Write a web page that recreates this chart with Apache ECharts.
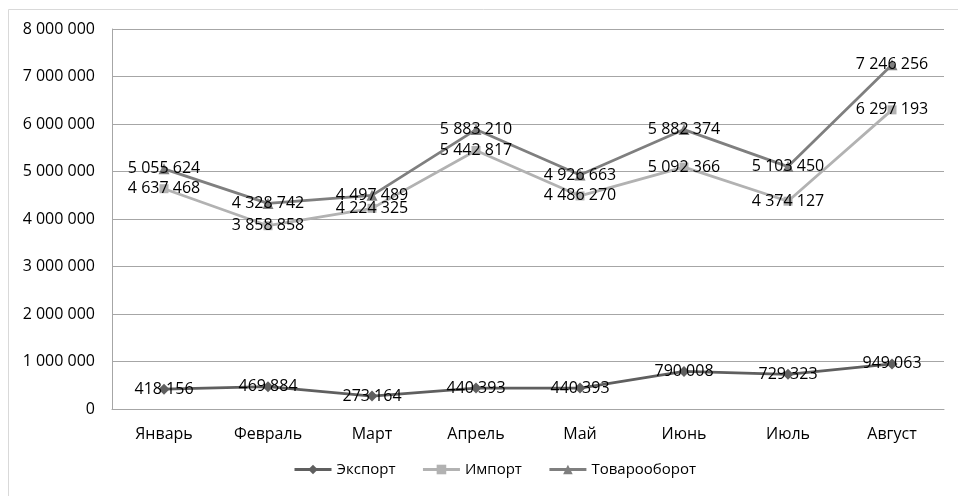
<!DOCTYPE html>
<html>
<head>
<meta charset="utf-8">
<script src="https://cdn.jsdelivr.net/npm/echarts@6/dist/echarts.min.js"></script>
<style>
  html, body { margin: 0; padding: 0; background: #fff; }
  #chart { width: 958px; height: 496px; }
</style>
</head>
<body>
<div id="chart"></div>
<script>
// Months (January–August)
const months = ['Январь', 'Февраль', 'Март', 'Апрель', 'Май', 'Июнь', 'Июль', 'Август'];

// Monthly trade figures
const exportValues = [418156, 469884, 273164, 440393, 440393, 790008, 729323, 949063];
const importValues = [4637468, 3858858, 4224325, 5442817, 4486270, 5092366, 4374127, 6297193];
const turnoverValues = [5055624, 4328742, 4497489, 5883210, 4926663, 5882374, 5103450, 7246256];

// Value axis range
const yMin = 0;
const yMax = 8000000;
const yStep = 1000000;

const FONT = 'Open Sans';
const fmt = v => String(v).replace(/\B(?=(\d{3})+(?!\d))/g, ' ');

function lineSeries(name, data, color, symbol, size) {
  return {
    name: name,
    type: 'line',
    data: data,
    symbol: symbol,
    symbolSize: size,
    showAllSymbol: true,
    lineStyle: { color: color, width: 2.75 },
    itemStyle: { color: color },
    label: {
      show: true,
      position: 'inside',
      color: '#000',
      fontFamily: FONT,
      fontSize: 16,
      formatter: p => fmt(p.value)
    },
    emphasis: { disabled: true },
    animation: false
  };
}

const chart = echarts.init(document.getElementById('chart'), null, { renderer: 'canvas' });
chart.setOption({
  backgroundColor: '#fff',
  animation: false,
  graphic: [{
    type: 'rect',
    shape: { x: 8.5, y: 9.5, width: 1000, height: 600 },
    style: { fill: 'none', stroke: '#d9d9d9', lineWidth: 1 },
    silent: true,
    z: -10
  }],
  grid: { left: 112, right: 14, top: 29, bottom: 87 },
  legend: {
    bottom: 14,
    left: 288,
    itemWidth: 37,
    itemHeight: 12,
    itemGap: 26,
    lineStyle: { width: 3 },
    textStyle: { fontFamily: FONT, fontSize: 15, color: '#000' },
    data: ['Экспорт', 'Импорт', 'Товарооборот']
  },
  xAxis: {
    type: 'category',
    data: months,
    boundaryGap: true,
    axisLine: { lineStyle: { color: '#a6a6a6', width: 1 } },
    axisTick: { show: false },
    axisLabel: { color: '#000', fontFamily: FONT, fontSize: 16, margin: 17 }
  },
  yAxis: {
    type: 'value',
    min: yMin,
    max: yMax,
    interval: yStep,
    axisLine: { show: true, lineStyle: { color: '#a6a6a6', width: 1 } },
    axisTick: { show: false },
    splitLine: { lineStyle: { color: '#a6a6a6', width: 1 } },
    axisLabel: { color: '#000', fontFamily: FONT, fontSize: 16, margin: 17, formatter: v => fmt(v) }
  },
  series: [
    lineSeries('Экспорт', exportValues, '#5f5f5f', 'diamond', 11),
    lineSeries('Импорт', importValues, '#b2b2b2', 'rect', 9),
    lineSeries('Товарооборот', turnoverValues, '#7f7f7f', 'triangle', 11)
  ]
});
</script>
</body>
</html>
